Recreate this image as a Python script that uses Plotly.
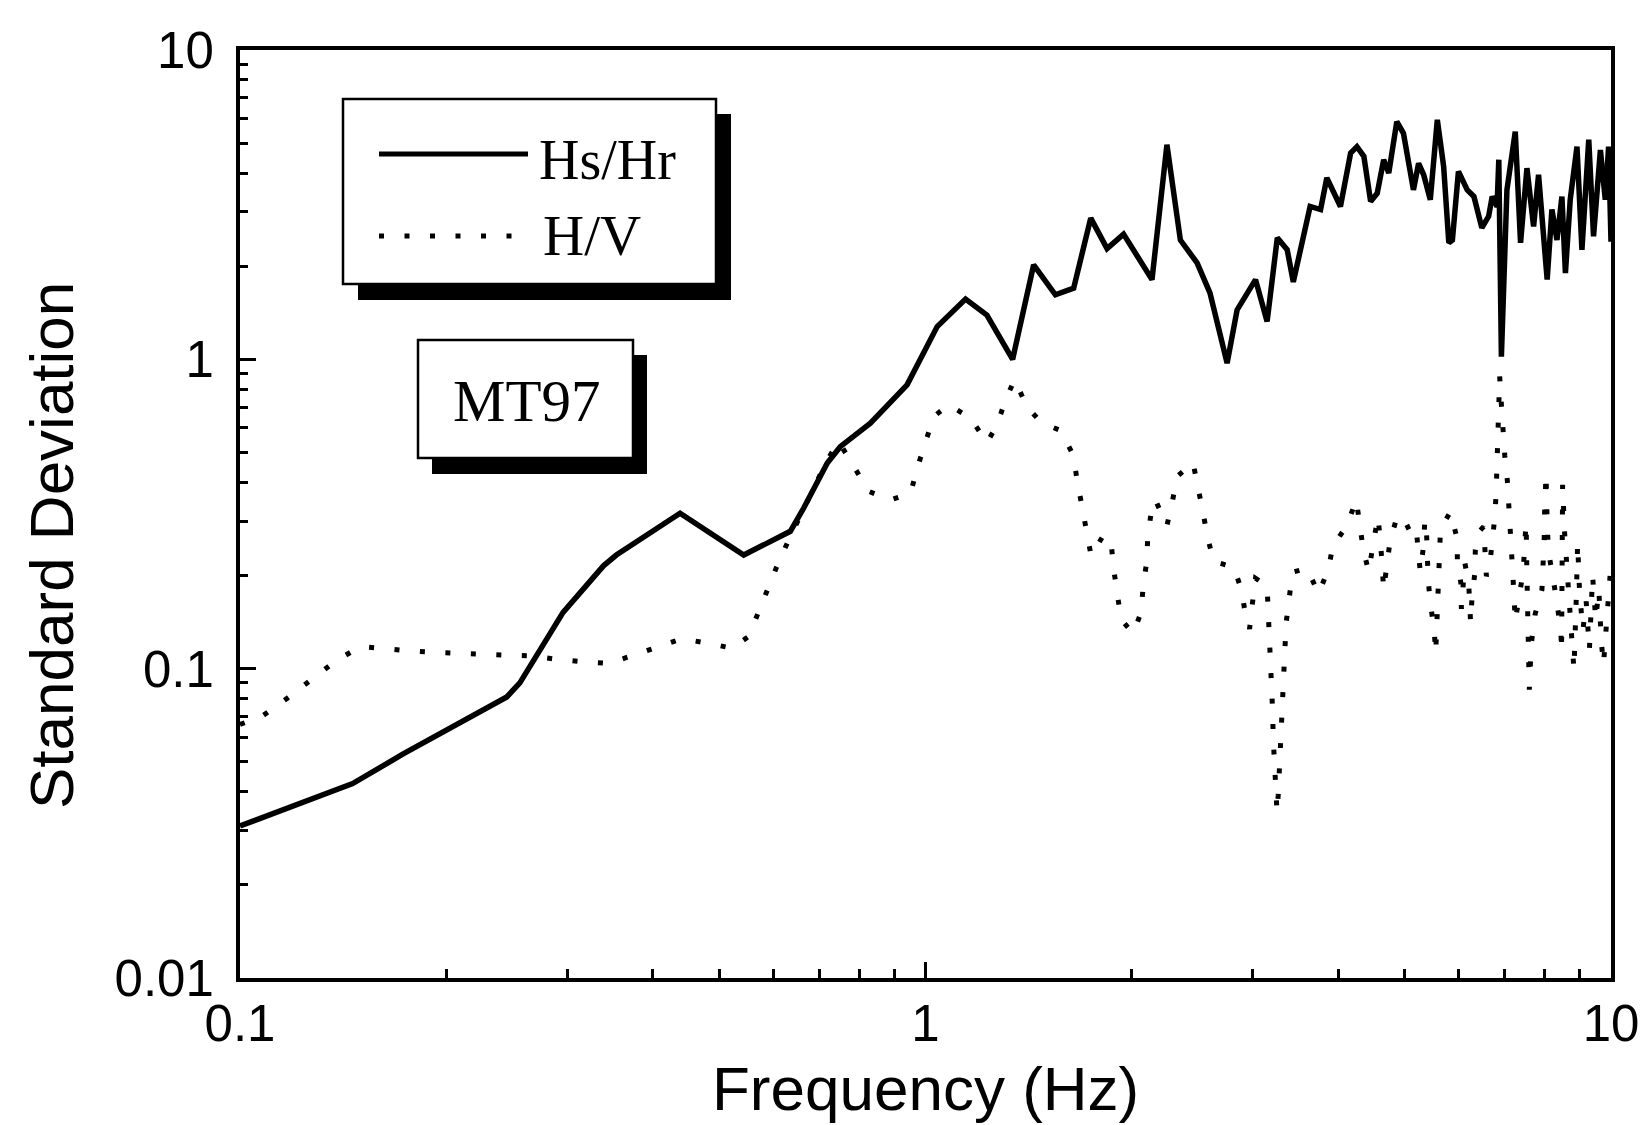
import plotly.graph_objects as go

# ---- data ----
hs_freq = [0.100, 0.146, 0.173, 0.245, 0.256, 0.296, 0.339, 0.354, 0.4385, 0.543,
           0.635, 0.664, 0.719, 0.751, 0.831, 0.940, 1.040, 1.144, 1.229, 1.340,
           1.438, 1.547, 1.645, 1.742, 1.840, 1.945, 2.140, 2.250, 2.354, 2.490,
           2.600, 2.754, 2.848, 3.03, 3.15, 3.26, 3.37, 3.44, 3.64, 3.77,
           3.85, 4.03, 4.17, 4.26, 4.36, 4.46, 4.56, 4.66, 4.74, 4.87,
           4.98, 5.15, 5.24, 5.33, 5.45, 5.58, 5.70, 5.80, 5.87, 5.99,
           6.17, 6.31, 6.48, 6.63, 6.71, 6.82, 6.86, 6.92, 7.05, 7.25,
           7.38, 7.54, 7.71, 7.84, 8.07, 8.20, 8.34, 8.48, 8.58, 8.72,
           8.92, 9.07, 9.28, 9.43, 9.65, 9.81, 9.92, 10.0]
hs_sd = [0.031, 0.0425, 0.053, 0.081, 0.090, 0.152, 0.215, 0.233, 0.318, 0.233,
         0.278, 0.330, 0.462, 0.522, 0.622, 0.827, 1.276, 1.566, 1.39, 1.00,
         2.02, 1.617, 1.70, 2.86, 2.28, 2.54, 1.81, 4.94, 2.43, 2.05,
         1.64, 0.972, 1.445, 1.81, 1.325, 2.47, 2.26, 1.78, 3.12, 3.05,
         3.86, 3.12, 4.64, 4.87, 4.53, 3.24, 3.44, 4.42, 4.0, 5.87,
         5.38, 3.53, 4.3, 3.95, 3.28, 5.95, 4.20, 2.38, 2.43, 4.05,
         3.53, 3.36, 2.66, 2.90, 3.36, 3.12, 4.42, 1.02, 3.53, 5.45,
         2.38, 4.15, 2.69, 3.95, 1.81, 3.05, 2.43, 3.36, 1.90, 3.28,
         4.87, 2.26, 5.13, 2.50, 4.75, 3.28, 4.87, 2.4]

hv_freq = [0.100, 0.1075, 0.117, 0.127, 0.138, 0.150, 0.163, 0.177, 0.1925, 0.209,
           0.228, 0.246, 0.266, 0.291, 0.316, 0.345, 0.375, 0.405, 0.441, 0.48,
           0.522, 0.552, 0.571, 0.591, 0.611, 0.635, 0.664, 0.691, 0.719, 0.747,
           0.786, 0.827, 0.889, 0.951, 0.974, 1.0, 1.028, 1.081, 1.163, 1.229,
           1.272, 1.307, 1.349, 1.407, 1.479, 1.574, 1.642, 1.664, 1.692, 1.717,
           1.744, 1.82, 1.867, 1.882, 1.907, 1.929, 2.009, 2.063, 2.077, 2.10,
           2.11, 2.133, 2.164, 2.25, 2.29, 2.328, 2.456, 2.50, 2.54, 2.58,
           2.633, 2.816, 2.89, 2.93, 2.97, 3.0, 3.03, 3.15, 3.165, 3.175,
           3.19, 3.20, 3.21, 3.215, 3.225, 3.235, 3.257, 3.27, 3.28, 3.29,
           3.30, 3.31, 3.33, 3.345, 3.36, 3.40, 3.43, 3.60, 3.746, 3.87,
           3.93, 4.12, 4.25, 4.30, 4.35, 4.43, 4.50, 4.57, 4.61, 4.64,
           4.66, 4.76, 4.87, 4.99, 5.19, 5.23, 5.27, 5.33, 5.35, 5.38,
           5.41, 5.45, 5.52, 5.55, 5.58, 5.60, 5.61, 5.64, 5.83, 5.96,
           5.97, 6.04, 6.05, 6.12, 6.20, 6.22, 6.24, 6.27, 6.33, 6.34,
           6.40, 6.52, 6.55, 6.58, 6.65, 6.72, 6.77, 6.80, 6.82, 6.84,
           6.86, 6.87, 6.88, 6.92, 6.95, 7.00, 7.06, 7.10, 7.15, 7.17,
           7.20, 7.23, 7.25, 7.35, 7.45, 7.48, 7.52, 7.54, 7.56, 7.58,
           7.59, 7.60, 7.65, 7.75, 7.93, 7.97, 7.99, 8.00, 8.02, 8.04,
           8.06, 8.10, 8.30, 8.45, 8.47, 8.49, 8.50, 8.53, 8.56, 8.60,
           8.70, 8.83, 8.90, 8.94, 8.97, 9.00, 9.10, 9.20, 9.30, 9.40,
           9.50, 9.60, 9.68, 9.75, 9.85, 10.0]
hv_sd = [0.066, 0.070, 0.080, 0.092, 0.106, 0.118, 0.1156, 0.114, 0.113, 0.1125,
         0.1117, 0.1105, 0.110, 0.107, 0.1054, 0.104, 0.1105, 0.117, 0.125, 0.121,
         0.1165, 0.127, 0.153, 0.187, 0.222, 0.267, 0.326, 0.388, 0.473, 0.542,
         0.45, 0.374, 0.351, 0.369, 0.45, 0.546, 0.653, 0.713, 0.646, 0.538,
         0.614, 0.736, 0.86, 0.70, 0.622, 0.589, 0.491, 0.407, 0.334, 0.277,
         0.232, 0.271, 0.251, 0.209, 0.173, 0.144, 0.130, 0.152, 0.184, 0.218,
         0.265, 0.318, 0.351, 0.29, 0.344, 0.418, 0.464, 0.388, 0.32, 0.265,
         0.222, 0.213, 0.18, 0.149, 0.1345, 0.164, 0.196, 0.185, 0.151, 0.1255,
         0.104, 0.0865, 0.0718, 0.060, 0.050, 0.0416, 0.0343, 0.039, 0.0465, 0.056,
         0.0675, 0.080, 0.0966, 0.117, 0.142, 0.171, 0.205, 0.211, 0.175, 0.21,
         0.25, 0.29, 0.352, 0.292, 0.244, 0.206, 0.248, 0.31, 0.259, 0.217,
         0.18, 0.258, 0.308, 0.283, 0.295, 0.244, 0.206, 0.251, 0.303, 0.281,
         0.196, 0.163, 0.1345, 0.112, 0.164, 0.197, 0.236, 0.284, 0.321, 0.265,
         0.222, 0.189, 0.156, 0.22, 0.189, 0.16, 0.141, 0.17, 0.204, 0.242,
         0.275, 0.288, 0.24, 0.199, 0.214, 0.258, 0.31, 0.374, 0.45, 0.55,
         0.66, 0.80, 0.88, 0.713, 0.59, 0.487, 0.405, 0.334, 0.277, 0.23,
         0.192, 0.161, 0.142, 0.173, 0.207, 0.25, 0.296, 0.20, 0.142, 0.118,
         0.1016, 0.0855, 0.12, 0.15, 0.18, 0.219, 0.264, 0.318, 0.356, 0.427,
         0.33, 0.242, 0.175, 0.133, 0.1135, 0.25, 0.393, 0.326, 0.271, 0.228,
         0.16, 0.099, 0.17, 0.255, 0.211, 0.175, 0.133, 0.165, 0.115, 0.2,
         0.144, 0.18, 0.1225, 0.103, 0.14, 0.219]

x_tickvals = [0.1, 1, 10]
x_ticktext = ["0.1", "1", "10"]
y_tickvals = [0.01, 0.1, 1, 10]
y_ticktext = ["0.01", "0.1", "1", "10"]
x_minor = [0.2, 0.3, 0.4, 0.5, 0.6, 0.7, 0.8, 0.9, 2, 3, 4, 5, 6, 7, 8, 9]
y_minor = [0.02, 0.03, 0.04, 0.05, 0.06, 0.07, 0.08, 0.09,
           0.2, 0.3, 0.4, 0.5, 0.6, 0.7, 0.8, 0.9,
           2, 3, 4, 5, 6, 7, 8, 9]

series_names = ["Hs/Hr", "H/V"]
site_label = "MT97"

W, H = 1640, 1125
ML, MR, MT, MB = 240, 29, 50, 147
PW, PH = W - ML - MR, H - MT - MB


def px(X):
    return (X - ML) / PW


def py(Y):
    return (H - MB - Y) / PH


SANS = "Liberation Sans, Arial, Helvetica, sans-serif"
SERIF = "Liberation Serif, Times New Roman, serif"
DOT = "5px,20.5px"

fig = go.Figure()
fig.add_trace(go.Scatter(x=hs_freq, y=hs_sd, mode="lines", name=series_names[0],
                         line=dict(color="black", width=5.5), showlegend=False))
fig.add_trace(go.Scatter(x=hv_freq, y=hv_sd, mode="lines", name=series_names[1],
                         line=dict(color="black", width=5, dash=DOT), showlegend=False))

axis_common = dict(type="log", showgrid=False, zeroline=False, showline=True,
                   linecolor="black", linewidth=4, mirror=True, automargin=False,
                   ticks="inside", tickcolor="black", tickwidth=3, ticklen=16,
                   tickfont=dict(family=SANS, size=51, color="black"))

fig.update_xaxes(range=[-1, 1], tickvals=x_tickvals, ticktext=x_ticktext,
                 ticklabelstandoff=-2,
                 minor=dict(ticks="inside", tickvals=x_minor, ticklen=9,
                            tickwidth=3, tickcolor="black"),
                 **axis_common)
fig.update_yaxes(range=[-2, 1], tickvals=y_tickvals, ticktext=y_ticktext,
                 ticklabelstandoff=12,
                 minor=dict(ticks="inside", tickvals=y_minor, ticklen=8,
                            tickwidth=3, tickcolor="black"),
                 **axis_common)

shapes = []
# legend box with shadow
shapes.append(dict(type="rect", xref="paper", yref="paper",
                   x0=px(358), x1=px(731), y0=py(300), y1=py(114),
                   fillcolor="black", line=dict(width=0), layer="above"))
shapes.append(dict(type="rect", xref="paper", yref="paper",
                   x0=px(343), x1=px(716), y0=py(284), y1=py(99),
                   fillcolor="white", line=dict(color="black", width=2.5), layer="above"))
shapes.append(dict(type="line", xref="paper", yref="paper",
                   x0=px(379), x1=px(528), y0=py(154), y1=py(154),
                   line=dict(color="black", width=5), layer="above"))
shapes.append(dict(type="line", xref="paper", yref="paper",
                   x0=px(379), x1=px(512), y0=py(236), y1=py(236),
                   line=dict(color="black", width=5, dash=DOT), layer="above"))
# MT97 box with shadow
shapes.append(dict(type="rect", xref="paper", yref="paper",
                   x0=px(432), x1=px(647), y0=py(474), y1=py(355),
                   fillcolor="black", line=dict(width=0), layer="above"))
shapes.append(dict(type="rect", xref="paper", yref="paper",
                   x0=px(418), x1=px(633), y0=py(458), y1=py(340),
                   fillcolor="white", line=dict(color="black", width=2.5), layer="above"))

annotations = [
    dict(text=series_names[0], x=px(537), y=py(160), xref="paper", yref="paper",
         xanchor="left", yanchor="middle", showarrow=False,
         font=dict(family=SERIF, size=56, color="black")),
    dict(text=series_names[1], x=px(541), y=py(235), xref="paper", yref="paper",
         xanchor="left", yanchor="middle", showarrow=False,
         font=dict(family=SERIF, size=57, color="black")),
    dict(text=site_label, x=px(527), y=py(401), xref="paper", yref="paper",
         xanchor="center", yanchor="middle", showarrow=False,
         font=dict(family=SERIF, size=59, color="black")),
    dict(text="Frequency (Hz)", x=0.5, y=py(1088), xref="paper", yref="paper",
         xanchor="center", yanchor="middle", showarrow=False,
         font=dict(family=SANS, size=62, color="black")),
    dict(text="Standard Deviation", x=px(51), y=py(546), xref="paper", yref="paper",
         xanchor="center", yanchor="middle", showarrow=False, textangle=-90,
         font=dict(family=SANS, size=62, color="black")),
]

fig.update_layout(width=W, height=H, margin=dict(l=ML, r=MR, t=MT, b=MB),
                  paper_bgcolor="white", plot_bgcolor="white",
                  shapes=shapes, annotations=annotations, showlegend=False)

fig.write_html("out.html")
